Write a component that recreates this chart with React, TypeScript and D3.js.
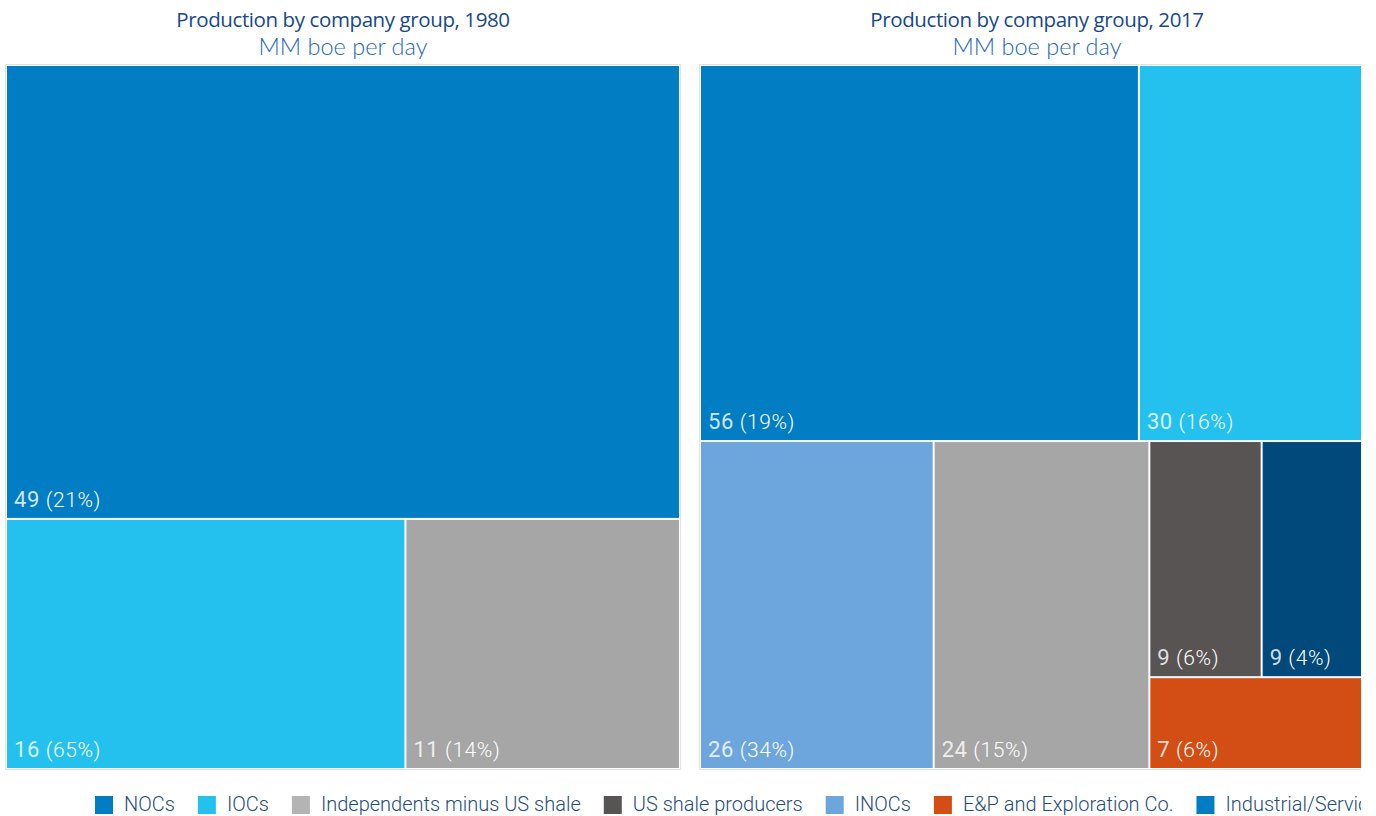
import React from "react";
import * as d3 from "d3";

const groupNames = [
  "NOCs",
  "IOCs",
  "Independents minus US shale",
  "US shale producers",
  "INOCs",
  "E&P and Exploration Co.",
  "Industrial/Services",
];
const groupColors = ["#007DC3", "#24C1EE", "#A6A6A6", "#595454", "#6CA6DC", "#D24E14", "#00497A"];
const legendNames = [
  "NOCs",
  "IOCs",
  "Independents minus US shale",
  "US shale producers",
  "INOCs",
  "E&P and Exploration Co.",
  "Industrial/Servic",
];
const legendColors = ["#007DC3", "#24C1EE", "#B4B4B4", "#595454", "#6CA6DC", "#D24E14", "#007DC3"];

const groups1980 = ["NOCs", "IOCs", "Independents minus US shale"];
const values1980 = [49, 16, 11];
const shares1980 = ["21%", "65%", "14%"];

const groups2017 = [
  "NOCs",
  "IOCs",
  "INOCs",
  "Independents minus US shale",
  "US shale producers",
  "Industrial/Services",
  "E&P and Exploration Co.",
];
const values2017 = [56, 30, 26, 24, 9, 9, 7];
const shares2017 = ["19%", "16%", "34%", "15%", "6%", "4%", "6%"];

const W = 1376;
const H = 816;
const VISIBLE_W = 1361;
const PANEL_W = 672;
const PANEL_H = 702;
const PANEL_Y = 66;

type Leaf = { name: string; value: number; share: string };

function layout(names: string[], values: number[], shares: string[]) {
  const root = d3
    .hierarchy<any>({ children: names.map((n, i) => ({ name: n, value: values[i], share: shares[i] })) })
    .sum((d: any) => d.value || 0);
  d3.treemap<any>()
    .tile(d3.treemapSquarify.ratio(1.2))
    .size([PANEL_W, PANEL_H])
    .paddingInner(2)(root);
  return root.leaves() as d3.HierarchyRectangularNode<Leaf>[];
}

function Panel({ x0, title, names, values, shares }: { x0: number; title: string; names: string[]; values: number[]; shares: string[] }) {
  const leaves = layout(names, values, shares);
  const cx = x0 + PANEL_W / 2;
  return (
    <g>
      <text x={cx} y={27} textAnchor="middle" fontFamily="'Open Sans', sans-serif" fontSize={20.5} fill="#17498A" style={{ letterSpacing: "-0.4px" }}>
        {title}
      </text>
      <text x={cx} y={55} textAnchor="middle" fontFamily="Lato, sans-serif" fontWeight={300} fontSize={23.5} fill="#1F68B3">
        MM boe per day
      </text>
      <rect x={x0 - 1.5} y={PANEL_Y - 1.5} width={PANEL_W + 3} height={PANEL_H + 3} fill="none" stroke="#DCE3EA" strokeWidth={1} />
      <g transform={`translate(${x0},${PANEL_Y})`}>
        {leaves.map((l, i) => {
          const d = l.data;
          const color = groupColors[groupNames.indexOf(d.name)];
          return (
            <g key={i}>
              <rect x={l.x0} y={l.y0} width={l.x1 - l.x0} height={l.y1 - l.y0} fill={color} />
              <text x={l.x0 + 7} y={l.y1 - 11} fontFamily="Roboto, sans-serif" fontWeight={300} fontSize={21} fill="#FFFFFF" style={{ letterSpacing: "0.6px" }}>
                <tspan fillOpacity={0.82} fontWeight={400} fontSize={22}>{d.value}</tspan>
                <tspan> ({d.share})</tspan>
              </text>
            </g>
          );
        })}
      </g>
    </g>
  );
}

function Legend() {
  const ctx = typeof document !== "undefined" ? document.createElement("canvas").getContext("2d") : null;
  const fs = 20;
  if (ctx) ctx.font = `300 ${fs}px Roboto`;
  let x = 95;
  const items = legendNames.map((n, i) => {
    const w = ctx ? ctx.measureText(n).width : n.length * 9;
    const item = { n, c: legendColors[i], x };
    x += 29 + w + 23;
    return item;
  });
  return (
    <g>
      {items.map((it, i) => (
        <g key={i}>
          <rect x={it.x} y={796} width={18} height={18} fill={it.c} />
          <text x={it.x + 29} y={811} fontFamily="Roboto, sans-serif" fontWeight={300} fontSize={fs} fill="#1F4E79">
            {it.n}
          </text>
        </g>
      ))}
    </g>
  );
}

export default function App() {
  return (
    <div style={{ position: "fixed", left: 0, top: 0, width: W, height: H, background: "#fff" }}>
      <svg width={W} height={H} style={{ display: "block" }}>
        <defs>
          <clipPath id="vis">
            <rect x={0} y={0} width={VISIBLE_W} height={H} />
          </clipPath>
        </defs>
        <g clipPath="url(#vis)">
          <Panel x0={7} title="Production by company group, 1980" names={groups1980} values={values1980} shares={shares1980} />
          <Panel x0={701} title="Production by company group, 2017" names={groups2017} values={values2017} shares={shares2017} />
          <Legend />
        </g>
      </svg>
    </div>
  );
}
